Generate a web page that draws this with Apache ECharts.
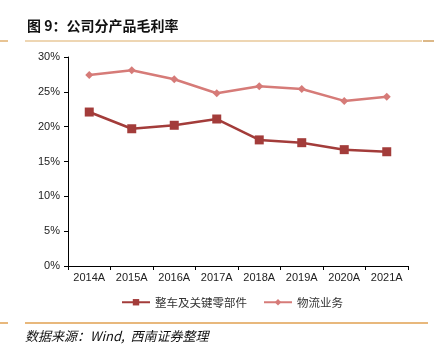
<!DOCTYPE html>
<html><head><meta charset="utf-8">
<script src="https://cdn.jsdelivr.net/npm/echarts@6/dist/echarts.min.js"></script>
<style>html,body{margin:0;padding:0;background:#fff}#c{width:434px;height:350px}</style>
</head><body><div id="c"></div>
<script>
const categories = ['2014A','2015A','2016A','2017A','2018A','2019A','2020A','2021A'];
const vehicleParts = [22.1, 19.7, 20.2, 21.1, 18.1, 17.7, 16.7, 16.4];
const logistics = [27.4, 28.1, 26.8, 24.8, 25.8, 25.4, 23.7, 24.3];
const seriesNames = ['整车及关键零部件', '物流业务'];
const titleText = '图 9：公司分产品毛利率';
const sourceText = '数据来源：Wind,  西南证券整理';

const chart = echarts.init(document.getElementById('c'), null, {renderer:'canvas'});
const font = '"Liberation Sans", Arial, "Noto Sans CJK SC", sans-serif';
chart.setOption({
  animation:false,
  textStyle:{fontFamily:font},
  grid:{left:68, right:26, top:57, bottom:84},
  xAxis:{type:'category', data:categories, boundaryGap:true,
    axisLine:{lineStyle:{color:'#000', width:1}},
    axisTick:{show:true, length:4, lineStyle:{color:'#000'}},
    axisLabel:{color:'#222', fontSize:11, margin:6, fontFamily:font}},
  yAxis:{type:'value', min:0, max:30, interval:5,
    axisLine:{show:true, lineStyle:{color:'#000'}},
    axisTick:{show:true, length:4, inside:false, lineStyle:{color:'#000'}},
    splitLine:{show:false},
    axisLabel:{color:'#222', fontSize:11, margin:8, formatter:'{value}%', fontFamily:font}},
  legend:{bottom:37, left:116, itemGap:16, itemWidth:28, itemHeight:8,
    textStyle:{fontSize:11.5, color:'#333', fontFamily:'"Noto Sans CJK SC", sans-serif'},
    data:seriesNames},
  series:[
    {name:seriesNames[0], type:'line', data:vehicleParts, symbol:'rect', symbolSize:9,
      lineStyle:{color:'#A33C3A', width:2.5}, itemStyle:{color:'#A33C3A'}},
    {name:seriesNames[1], type:'line', data:logistics, symbol:'diamond', symbolSize:8,
      lineStyle:{color:'#D67B78', width:2.5}, itemStyle:{color:'#D67B78'}}
  ],
  graphic:[
    {type:'text', left:27, top:19, style:{text:titleText, font:'bold 14px "Noto Sans CJK SC", sans-serif', fill:'#111'}},
    {type:'line', shape:{x1:0,y1:41,x2:8,y2:41}, style:{stroke:'#E0B070', lineWidth:1.5}},
    {type:'line', shape:{x1:25,y1:41,x2:422,y2:41}, style:{stroke:'#E8C89A', lineWidth:1.5}},
    {type:'line', shape:{x1:423,y1:41,x2:434,y2:41}, style:{stroke:'#D0A060', lineWidth:1.5}},
    {type:'line', shape:{x1:0,y1:323,x2:8,y2:323}, style:{stroke:'#E0A050', lineWidth:1.5}},
    {type:'line', shape:{x1:25,y1:323,x2:428,y2:323}, style:{stroke:'#E0A050', lineWidth:1.5}},
    {type:'text', left:25, top:330, style:{text:sourceText, font:'italic 13px "Noto Sans CJK SC", sans-serif', fill:'#111'}}
  ]
});
</script></body></html>
